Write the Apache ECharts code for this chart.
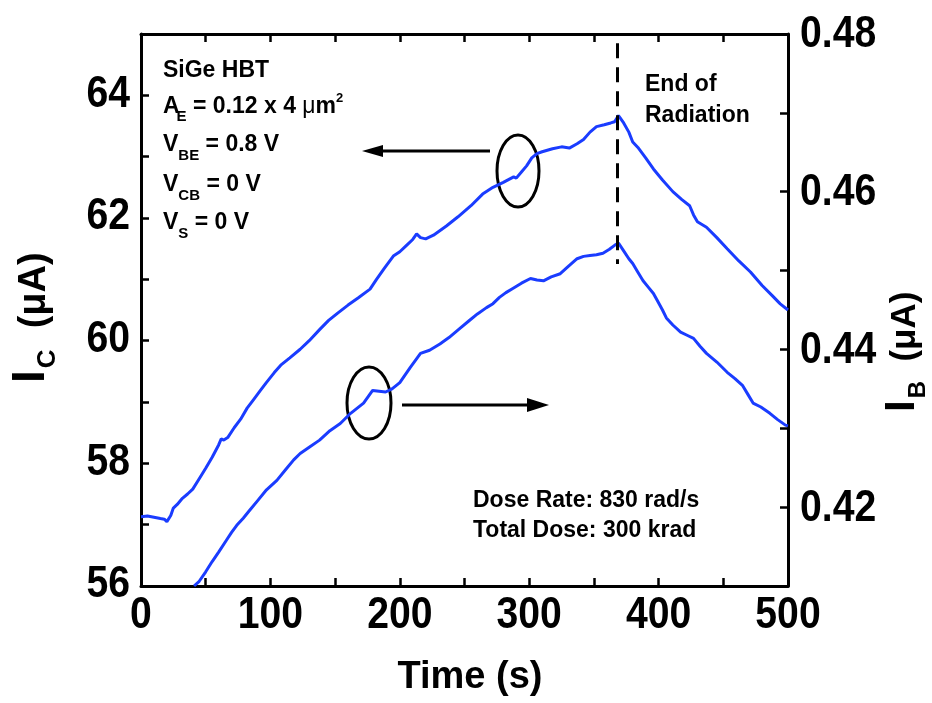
<!DOCTYPE html>
<html><head><meta charset="utf-8">
<script src="https://cdn.jsdelivr.net/npm/echarts@6/dist/echarts.min.js"></script>
<style>html,body{margin:0;padding:0;background:#fff}#c{width:932px;height:703px}</style>
</head><body><div id="c"></div>
<script>
// ---- data ----
const icTime = [0,5,10,15,18,20,23,25,28,32,36,40,45,50,55,60,62,64,67,72,77,82,87,92,97,103,108,115,123,130,138,145,152,160,168,177,182,188,195,200,205,210,213,216,220,226,236,245,255,264,272,280,288,290,294,298,302,306,310,318,325,331,337,342,347,352,358,363,366,369,373,377,380,384,390,396,403,411,418,424,427,430,437,445,453,462,471,480,488,494,500];
const icValues = [57.13,57.14,57.12,57.10,57.09,57.05,57.15,57.27,57.33,57.43,57.50,57.58,57.75,57.92,58.10,58.30,58.40,58.38,58.42,58.58,58.72,58.90,59.04,59.18,59.32,59.48,59.60,59.72,59.86,60.00,60.18,60.33,60.45,60.58,60.70,60.84,61.00,61.18,61.38,61.45,61.55,61.65,61.74,61.68,61.66,61.72,61.87,62.02,62.20,62.39,62.50,62.58,62.67,62.65,62.75,62.85,62.98,63.05,63.08,63.13,63.16,63.14,63.21,63.28,63.40,63.49,63.52,63.55,63.57,63.67,63.55,63.40,63.24,63.15,62.98,62.80,62.62,62.43,62.30,62.20,62.05,61.94,61.85,61.68,61.50,61.30,61.12,60.90,60.73,60.60,60.50];
const ibTime = [41,45,50,55,60,66,70,74,79,84,90,97,105,112,118,123,130,138,146,154,162,172,179,184,189,194,200,208,216,223,231,238,246,254,260,267,272,277,282,287,294,301,306,311,317,324,330,337,342,347,352,357,362,366,369,373,377,380,384,388,392,396,399,403,406,411,417,422,427,432,437,445,453,459,465,469,473,479,486,492,498,500];
const ibValues = [0.4100,0.4106,0.4118,0.4131,0.4143,0.4158,0.4168,0.4177,0.4186,0.4196,0.4208,0.4222,0.4234,0.4248,0.4260,0.4268,0.4276,0.4285,0.4297,0.4306,0.4319,0.4332,0.4348,0.4347,0.4346,0.4350,0.4358,0.4377,0.4395,0.4399,0.4407,0.4415,0.4426,0.4437,0.4445,0.4453,0.4458,0.4466,0.4472,0.4477,0.4484,0.4490,0.4488,0.4487,0.4492,0.4496,0.4505,0.4515,0.4518,0.4519,0.4520,0.4522,0.4527,0.4532,0.4535,0.4525,0.4515,0.4509,0.4498,0.4487,0.4479,0.4471,0.4462,0.4450,0.4440,0.4431,0.4422,0.4418,0.4414,0.4404,0.4395,0.4384,0.4371,0.4363,0.4354,0.4343,0.4332,0.4327,0.4319,0.4311,0.4304,0.4303];
const endOfRadiation = 368;
const xTicks = {min:0, max:500, step:50};
const leftTicks = {min:56, max:65, step:1};
const rightTicks = {min:0.41, max:0.48, step:0.01};
const xTickLabels = [0, 100, 200, 300, 400, 500];
const leftTickLabels = [56, 58, 60, 62, 64];
const rightTickLabels = ['0.42', '0.44', '0.46', '0.48'];

// ---- helpers for annotation text ----
const FAM = "'Liberation Sans', Arial, sans-serif";
const mctx = document.createElement('canvas').getContext('2d');
function tw(t, size, weight, fam){ mctx.font = weight + ' ' + size + 'px ' + fam; return mctx.measureText(t).width; }
function line(x, base, parts){
  const out = []; let cx = x;
  parts.forEach(p => {
    const size = p.size, weight = p.weight || 'bold', fam = p.fam || FAM, dy = p.dy || 0;
    cx += (p.dx || 0);
    out.push({type:'text', x: cx, y: base + dy - 0.34*size, silent:true,
      style:{text:p.t, fontSize:size, fontWeight:weight, fontFamily:fam, fill:'#000', align:'left', verticalAlign:'middle'}});
    cx += tw(p.t, size, weight, fam);
  });
  return out;
}
const S = 23, SUB = 15;
const graphics = [];
graphics.push(...line(163, 78, [{t:'SiGe HBT', size:S}]));
graphics.push(...line(163, 114, [{t:'A', size:S},{t:'E', size:SUB, dy:8, dx:-3},{t:' = 0.12 x 4 ', size:S},{t:'μ', size:S, weight:'normal'},{t:'m', size:S},{t:'2', size:13, dy:-11}]));
graphics.push(...line(163, 152, [{t:'V', size:S},{t:'BE', size:SUB, dy:9},{t:' = 0.8 V', size:S}]));
graphics.push(...line(163, 192, [{t:'V', size:S},{t:'CB', size:SUB, dy:9},{t:' = 0 V', size:S}]));
graphics.push(...line(163, 230, [{t:'V', size:S},{t:'S', size:SUB, dy:9},{t:' = 0 V', size:S}]));
graphics.push(...line(645, 92, [{t:'End of', size:S}]));
graphics.push(...line(645, 123, [{t:'Radiation', size:S}]));
graphics.push(...line(473, 508, [{t:'Dose Rate: 830 rad/s', size:S}]));
graphics.push(...line(473, 538, [{t:'Total Dose: 300 krad', size:S}]));
// x title
graphics.push({type:'text', x:470, y:690 - 0.34*38, silent:true,
  style:{text:'Time (s)', fontSize:38, fontWeight:'bold', fontFamily:FAM, fill:'#000', align:'center', verticalAlign:'middle'}});
// rotated y titles
function ytitle(x, y, sub, k){
  return {type:'group', x, y, rotation: Math.PI/2, silent:true,
    children: line(0, 0, [{t:'I', size:46*k},{t:sub, size:26*k, dy:10*k, dx:2},{t:'  (μA)', size:38*k}])};
}
graphics.push(ytitle(47, 383, 'C', 1));
graphics.push(ytitle(917, 412, 'B', 0.92));
// ellipses and arrows
const stroke = {stroke:'#000', lineWidth:3, fill:null};
graphics.push({type:'ellipse', shape:{cx:518, cy:171, rx:21, ry:36}, style:stroke, silent:true});
graphics.push({type:'ellipse', shape:{cx:369, cy:403, rx:22, ry:36}, style:stroke, silent:true});
graphics.push({type:'line', shape:{x1:490, y1:151, x2:375, y2:151}, style:{stroke:'#000', lineWidth:3}, silent:true});
graphics.push({type:'polygon', shape:{points:[[362,151],[383,145],[383,157]]}, style:{fill:'#000'}, silent:true});
graphics.push({type:'line', shape:{x1:402, y1:405, x2:535, y2:405}, style:{stroke:'#000', lineWidth:3}, silent:true});
graphics.push({type:'polygon', shape:{points:[[549,405],[527,398],[527,412]]}, style:{fill:'#000'}, silent:true});

const axisLine = {show:true, onZero:false, lineStyle:{color:'#000', width:3}};
const tick = {show:true, inside:true, length:8, lineStyle:{color:'#000', width:2.5}};

const chart = echarts.init(document.getElementById('c'), null, {renderer:'canvas'});
chart.setOption({
  animation:false,
  backgroundColor:'#fff',
  grid:{left:141, right:144, top:34, bottom:117, containLabel:false},
  xAxis:[
    {type:'value', position:'bottom', min:xTicks.min, max:xTicks.max, interval:xTicks.step,
     axisLine, axisTick:tick, splitLine:{show:false}, axisLabel:{show:false}},
    {type:'value', position:'top', min:xTicks.min, max:xTicks.max, interval:xTicks.step,
     axisLine, axisTick:tick, splitLine:{show:false}, axisLabel:{show:false}}
  ],
  yAxis:[
    {type:'value', position:'left', min:leftTicks.min, max:leftTicks.max, interval:leftTicks.step,
     axisLine, axisTick:tick, splitLine:{show:false}, axisLabel:{show:false}},
    {type:'value', position:'right', min:rightTicks.min, max:rightTicks.max, interval:rightTicks.step,
     axisLine, axisTick:tick, splitLine:{show:false}, axisLabel:{show:false}}
  ],
  series:[
    {type:'line', name:'IC', xAxisIndex:0, yAxisIndex:0, showSymbol:false, smooth:false,
     data: icTime.map((t,i) => [t, icValues[i]]),
     lineStyle:{color:'#1a3cff', width:3}, itemStyle:{color:'#1a3cff'},
     markLine:{silent:true, symbol:['none','none'], label:{show:false},
       lineStyle:{color:'#000', width:3, type:[15,9]},
       data:[[{coord:[endOfRadiation, 64.85]},{coord:[endOfRadiation, 61.25]}]]}},
    {type:'line', name:'IB', xAxisIndex:0, yAxisIndex:1, showSymbol:false, smooth:false,
     data: ibTime.map((t,i) => [t, ibValues[i]]),
     lineStyle:{color:'#1a3cff', width:3}, itemStyle:{color:'#1a3cff'}}
  ]
});

// tick labels placed through the axes' own scales (condensed bold, as in the reference)
const LS = 45, SX = 0.87;
function tickText(x, y, text, align){
  return {type:'text', x, y, scaleX:SX, silent:true,
    style:{text:String(text), fontSize:LS, fontWeight:'bold', fontFamily:FAM, fill:'#000', align, verticalAlign:'middle'}};
}
const bottomPx = chart.convertToPixel({yAxisIndex:0}, leftTicks.min);
xTickLabels.forEach(v => {
  const px = chart.convertToPixel({xAxisIndex:0}, v);
  graphics.push(tickText(px, bottomPx + 30, v, 'center'));
});
const leftPx = chart.convertToPixel({xAxisIndex:0}, xTicks.min);
const rightPx = chart.convertToPixel({xAxisIndex:0}, xTicks.max);
leftTickLabels.forEach(v => {
  const py = chart.convertToPixel({yAxisIndex:0}, v);
  graphics.push(tickText(leftPx - 11, py - 1, v, 'right'));
});
rightTickLabels.forEach(v => {
  const py = chart.convertToPixel({yAxisIndex:1}, parseFloat(v));
  graphics.push(tickText(rightPx + 12, py + 1, v, 'left'));
});
chart.setOption({graphic: graphics});
</script></body></html>
